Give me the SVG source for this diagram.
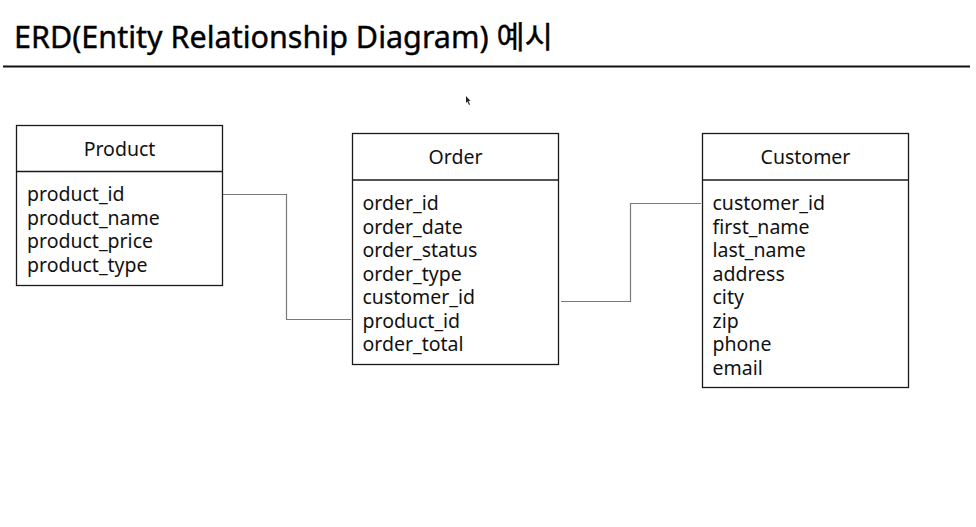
<svg xmlns="http://www.w3.org/2000/svg" width="976" height="527" viewBox="0 0 976 527">
<style>
.box{fill:#fff;stroke:#1a1a1a;stroke-width:1.3}
.div{stroke:#1a1a1a;stroke-width:1.3}
.hd{font-family:"Noto Sans","Noto Sans CJK KR",sans-serif;font-size:19.5px;fill:#111;text-anchor:middle}
.fd{font-family:"Noto Sans","Noto Sans CJK KR",sans-serif;font-size:19.5px;fill:#111}
.conn{fill:none;stroke:#7a7a7a;stroke-width:1.2}
</style>
<rect width="976" height="527" fill="#fff"/>
<text x="14" y="48" font-family="'Noto Sans','Noto Sans CJK KR',sans-serif" font-size="30.5" fill="#000" stroke="#000" stroke-width="0.4">ERD(Entity Relationship Diagram) 예시</text>
<line x1="3" y1="66.5" x2="970" y2="66.5" stroke="#111" stroke-width="2"/>
<polygon points="466,96 466,103 467.5,101.5 469,105 470,104.5 468.5,101 470.5,101" fill="#222"/>
<g id="connectors">
<polyline class="conn" points="223,194.5 286.5,194.5 286.5,319.5 351,319.5"/>
<polyline class="conn" points="561,301.5 630.5,301.5 630.5,203.5 701,203.5"/>
</g>
<g id="product">
<rect class="box" x="16.5" y="125.5" width="206" height="160"/>
<line class="div" x1="16.5" y1="171.5" x2="222.5" y2="171.5"/>
<text class="hd" x="119.5" y="156">Product</text>
<text class="fd" x="27" y="201">product_id</text>
<text class="fd" x="27" y="224.5">product_name</text>
<text class="fd" x="27" y="248">product_price</text>
<text class="fd" x="27" y="271.5">product_type</text>
</g>
<g id="order">
<rect class="box" x="352.5" y="133.5" width="206" height="231"/>
<line class="div" x1="352.5" y1="180" x2="558.5" y2="180"/>
<text class="hd" x="455.5" y="164">Order</text>
<text class="fd" x="362.5" y="210">order_id</text>
<text class="fd" x="362.5" y="233.5">order_date</text>
<text class="fd" x="362.5" y="257">order_status</text>
<text class="fd" x="362.5" y="280.5">order_type</text>
<text class="fd" x="362.5" y="304">customer_id</text>
<text class="fd" x="362.5" y="327.5">product_id</text>
<text class="fd" x="362.5" y="351">order_total</text>
</g>
<g id="customer">
<rect class="box" x="702.5" y="133.5" width="206" height="254"/>
<line class="div" x1="702.5" y1="180" x2="908.5" y2="180"/>
<text class="hd" x="805.5" y="164">Customer</text>
<text class="fd" x="712.5" y="210">customer_id</text>
<text class="fd" x="712.5" y="233.5">first_name</text>
<text class="fd" x="712.5" y="257">last_name</text>
<text class="fd" x="712.5" y="280.5">address</text>
<text class="fd" x="712.5" y="304">city</text>
<text class="fd" x="712.5" y="327.5">zip</text>
<text class="fd" x="712.5" y="351">phone</text>
<text class="fd" x="712.5" y="374.5">email</text>
</g>
</svg>
